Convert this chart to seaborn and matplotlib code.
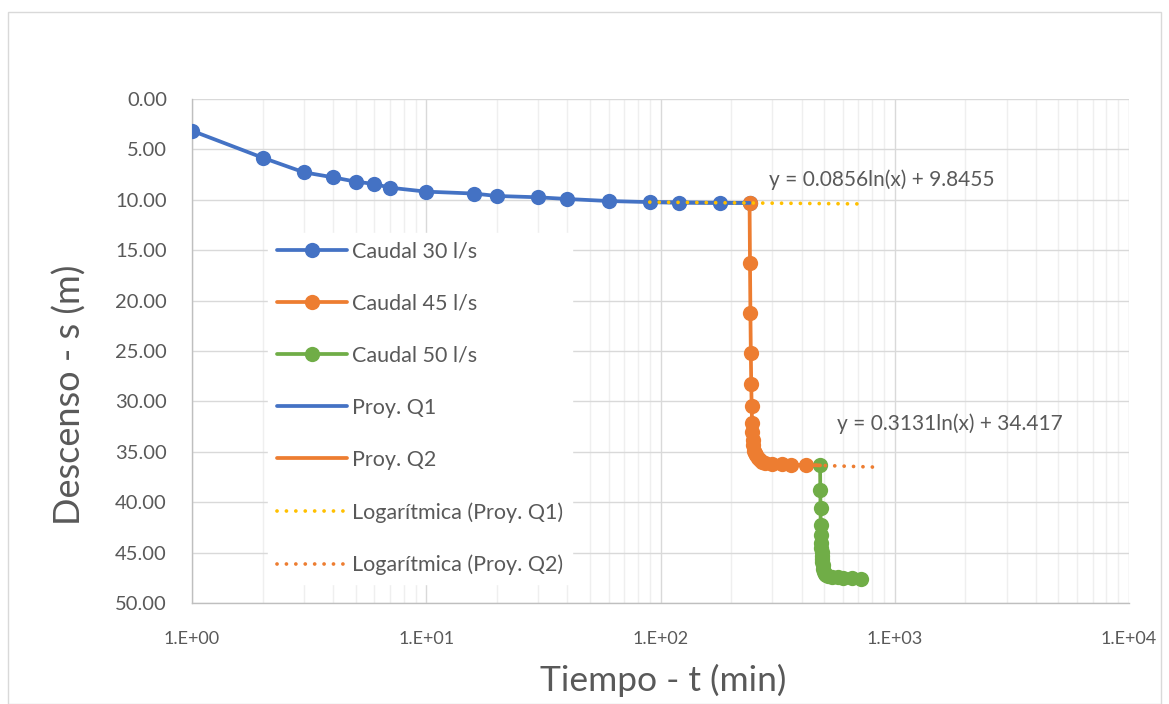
import numpy as np
import pandas as pd
import matplotlib
matplotlib.use("Agg")
import matplotlib.pyplot as plt
from matplotlib.patches import Rectangle
from matplotlib.ticker import FixedLocator, FuncFormatter, LogLocator, NullFormatter
import seaborn as sns

# --- Pumping test data: time (min) vs drawdown (m) ---
t_q30 = [1, 2, 3, 4, 5, 6, 7, 10, 16, 20, 30, 40, 60, 90, 120, 180, 240]
s_q30 = [3.15, 5.82, 7.27, 7.77, 8.20, 8.43, 8.80, 9.19, 9.38, 9.62, 9.75, 9.92,
         10.12, 10.23, 10.27, 10.30, 10.31]

t_q45 = [240, 241, 242, 243, 244, 245, 246, 247, 248, 249, 250, 252, 255, 260,
         265, 270, 280, 300, 330, 360, 420]
s_q45 = [10.31, 16.3, 21.2, 25.2, 28.3, 30.5, 32.1, 33.0, 33.8, 34.3, 34.9, 35.1,
         35.3, 35.6, 35.8, 36.0, 36.1, 36.2, 36.25, 36.28, 36.31]

t_q50 = [480, 481, 482, 483, 484, 485, 486, 487, 488, 489, 490, 492, 495, 500,
         505, 510, 520, 540, 570, 600, 660, 720]
s_q50 = [36.35, 38.8, 40.6, 42.3, 43.3, 44.0, 44.5, 44.9, 45.3, 45.6, 45.9, 46.2,
         46.6, 46.9, 47.1, 47.2, 47.3, 47.4, 47.45, 47.5, 47.55, 47.6]

# Projection segments used for the logarithmic fits
t_proy1 = [90, 120, 180, 240]
s_proy1 = [10.23, 10.27, 10.30, 10.31]
t_proy2 = [420, 480]
s_proy2 = [36.31, 36.35]

# Logarithmic trendlines: s = a*ln(t) + b
trend1_coef = (0.0856, 9.8455)
trend1_range = (90, 690)
trend2_coef = (0.3131, 34.417)
trend2_range = (420, 870)

y_ticks = [0, 5, 10, 15, 20, 25, 30, 35, 40, 45, 50]
x_ticks = [1, 10, 100, 1000, 10000]

BLUE = "#4472C4"
ORANGE = "#ED7D31"
GREEN = "#70AD47"
YELLOW = "#FFC000"
TEXT = "#595959"

sns.set_theme(style="white")
plt.rcParams["font.family"] = ["Lato", "DejaVu Sans"]

fig = plt.figure(figsize=(11.69, 7.04), dpi=100)
ax = fig.add_axes([192 / 1169, 1 - 603 / 704, (1129 - 192) / 1169, (603 - 99) / 704])

# chart area border
fig.patches.append(Rectangle((8 / 1169, 0), (1161 - 8) / 1169, 1 - 12 / 704,
                             transform=fig.transFigure, fill=False,
                             edgecolor="#d9d9d9", linewidth=1.0, zorder=0))

df30 = pd.DataFrame({"t": t_q30, "s": s_q30})
df45 = pd.DataFrame({"t": t_q45, "s": s_q45})
df50 = pd.DataFrame({"t": t_q50, "s": s_q50})
dfp1 = pd.DataFrame({"t": t_proy1, "s": s_proy1})
dfp2 = pd.DataFrame({"t": t_proy2, "s": s_proy2})

lw = 2.7
ms = 11
sns.lineplot(data=df30, x="t", y="s", ax=ax, color=BLUE, lw=lw, marker="o",
             markersize=ms, markeredgewidth=0, sort=False, label="Caudal 30 l/s", zorder=3)
sns.lineplot(data=df45, x="t", y="s", ax=ax, color=ORANGE, lw=lw, marker="o",
             markersize=ms, markeredgewidth=0, sort=False, label="Caudal 45 l/s", zorder=4)
sns.lineplot(data=df50, x="t", y="s", ax=ax, color=GREEN, lw=lw, marker="o",
             markersize=ms, markeredgewidth=0, sort=False, label="Caudal 50 l/s", zorder=5)
sns.lineplot(data=dfp1, x="t", y="s", ax=ax, color=BLUE, lw=lw, sort=False,
             label="Proy. Q1", zorder=6)
sns.lineplot(data=dfp2, x="t", y="s", ax=ax, color=ORANGE, lw=lw, sort=False,
             label="Proy. Q2", zorder=6)

tr1 = np.geomspace(*trend1_range, 60)
tr2 = np.geomspace(*trend2_range, 60)
df_tr1 = pd.DataFrame({"t": tr1, "s": trend1_coef[0] * np.log(tr1) + trend1_coef[1]})
df_tr2 = pd.DataFrame({"t": tr2, "s": trend2_coef[0] * np.log(tr2) + trend2_coef[1]})
sns.lineplot(data=df_tr1, x="t", y="s", ax=ax, color=YELLOW, lw=2.7,
             dashes=False, label="Logarítmica (Proy. Q1)", zorder=7)
sns.lineplot(data=df_tr2, x="t", y="s", ax=ax, color=ORANGE, lw=2.7,
             dashes=False, label="Logarítmica (Proy. Q2)", zorder=7)
for ln in ax.lines[-2:]:
    ln.set_linestyle((0, (0.01, 2.5)))
    ln.set_dash_capstyle("round")

ax.set_xscale("log")
ax.set_xlim(1, 1e4)
ax.set_ylim(50, 0)

ax.xaxis.set_major_locator(FixedLocator(x_ticks))
ax.xaxis.set_major_formatter(FuncFormatter(lambda v, p: f"1.E+{int(round(np.log10(v))):02d}"))
ax.xaxis.set_minor_locator(LogLocator(base=10, subs=np.arange(2, 10)))
ax.xaxis.set_minor_formatter(NullFormatter())
ax.yaxis.set_major_locator(FixedLocator(y_ticks))
ax.yaxis.set_major_formatter(FuncFormatter(lambda v, p: f"{v:.2f}"))

ax.grid(True, which="major", axis="both", color="#d9d9d9", lw=1.0, zorder=0)
ax.grid(True, which="minor", axis="x", color="#efefef", lw=1.0, zorder=0)
ax.set_axisbelow(True)

for side in ["top", "right"]:
    ax.spines[side].set_visible(False)
for side in ["left", "bottom"]:
    ax.spines[side].set_color("#bfbfbf")
    ax.spines[side].set_linewidth(1.0)

ax.tick_params(axis="y", which="both", length=0, labelsize=14.5, colors=TEXT, pad=18)
ax.tick_params(axis="x", which="both", length=0, labelsize=13, colors=TEXT, pad=20)

ax.set_xlabel("Tiempo - t (min)", fontsize=25.5, color=TEXT)
ax.set_ylabel("Descenso - s (m)", fontsize=26, color=TEXT)
ax.xaxis.set_label_coords((663 - 192) / 937, (603 - 680) / 504)
ax.xaxis.label.set_va("center")
ax.yaxis.set_label_coords((70 - 192) / 937, (603 - 395) / 504)
ax.yaxis.label.set_va("center")

ax.text(882, 8.0, "y = 0.0856ln(x) + 9.8455", fontsize=15, color=TEXT,
        ha="center", va="center", zorder=8)
ax.text(1722, 32.2, "y = 0.3131ln(x) + 34.417", fontsize=15, color=TEXT,
        ha="center", va="center", zorder=8)

leg = ax.legend(loc="upper left", bbox_to_anchor=(0.0815, 0.734), frameon=True,
                fontsize=15.5, handlelength=3.25, handletextpad=0.23,
                labelspacing=1.49, borderpad=0.4, borderaxespad=0)
leg.get_frame().set_facecolor("white")
leg.get_frame().set_edgecolor("white")
leg.get_frame().set_alpha(1.0)
for txt in leg.get_texts():
    txt.set_color(TEXT)
for h in leg.legend_handles[-2:]:
    h.set_linestyle((0, (0.01, 2.5)))
    h.set_dash_capstyle("round")

fig.savefig("out.png", dpi=100)
